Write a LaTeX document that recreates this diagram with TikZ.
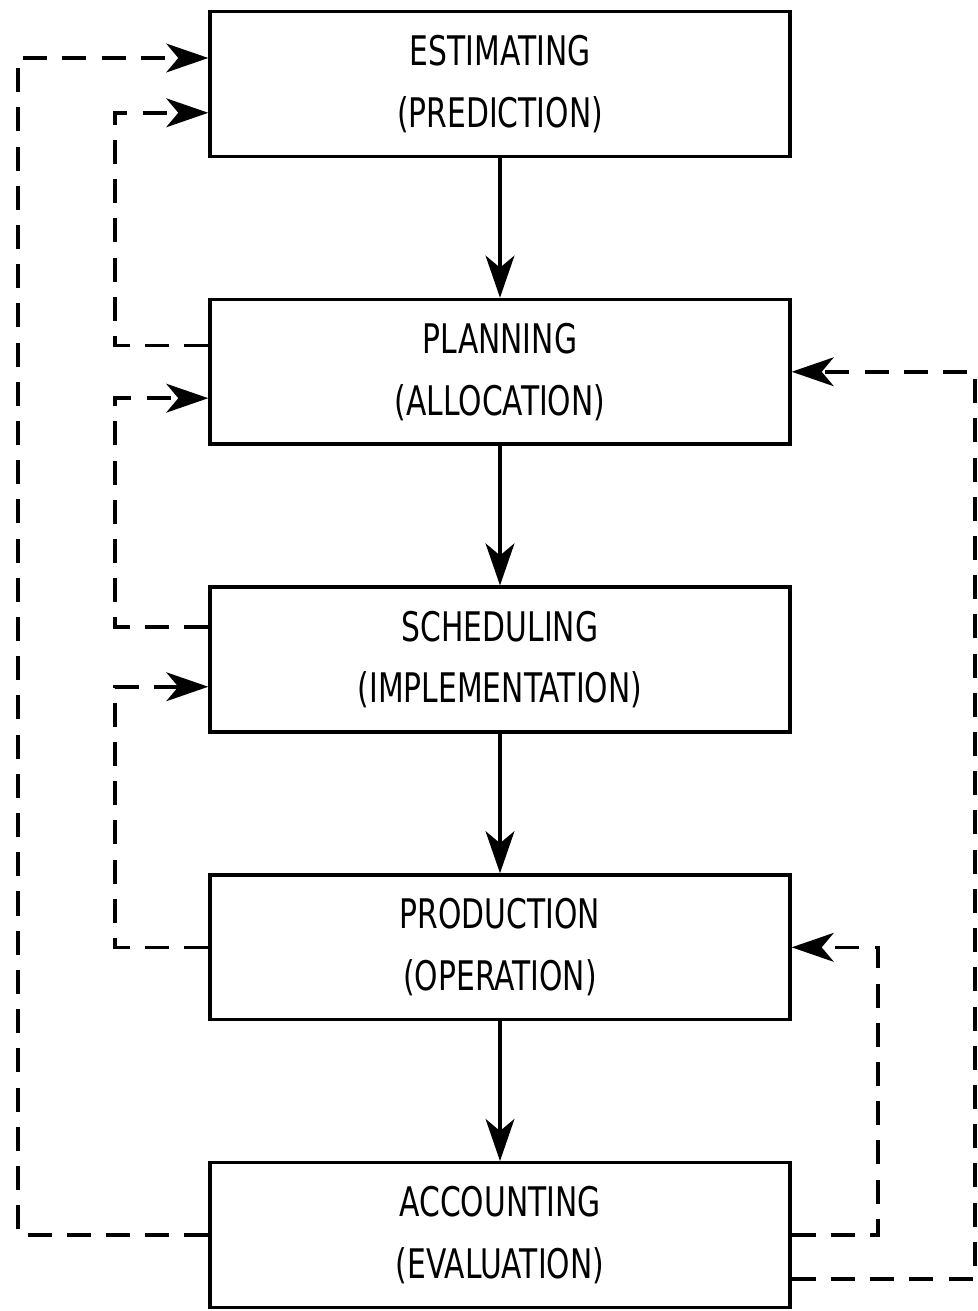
\documentclass[tikz,border=0pt]{standalone}
\usepackage{fontspec}
\setmainfont[FakeStretch=0.73]{DejaVu Sans}
\usepackage{tikz}
\usetikzlibrary{arrows.meta, positioning, calc}

\begin{document}
\begin{tikzpicture}[
  node distance=3.49cm,
  box/.style={rectangle, draw=black, line width=2.4pt,
              minimum width=14.5cm, minimum height=3.62cm,
              align=center, font=\fontsize{29}{44}\selectfont},
  arrow/.style={-{Stealth[length=1.05cm, width=0.72cm, inset=0.3cm]}, line width=2.6pt},
  feedback/.style={arrow, dash pattern=on 0.6cm off 0.38cm}
]
\useasboundingbox (0,0) rectangle (24.425,-32.775);

\node[box] (estimating) at (12.5,-2.1) {ESTIMATING\\(PREDICTION)};
\node[box, below=of estimating] (planning) {PLANNING\\(ALLOCATION)};
\node[box, below=of planning] (scheduling) {SCHEDULING\\(IMPLEMENTATION)};
\node[box, below=of scheduling] (production) {PRODUCTION\\(OPERATION)};
\node[box, below=of production] (accounting) {ACCOUNTING\\(EVALUATION)};

% main flow
\draw[arrow] (estimating) -- (planning);
\draw[arrow] (planning) -- (scheduling);
\draw[arrow] (scheduling) -- (production);
\draw[arrow] (production) -- (accounting);

% feedback on the left
\draw[feedback] (accounting.west) -- ++(-4.75cm,0) |- ([yshift=0.65cm]estimating.west);
\draw[feedback] ([yshift=0.66cm]planning.west) -- ++(-2.325cm,0) |- ([yshift=-0.72cm]estimating.west);
\draw[feedback] ([yshift=0.82cm]scheduling.west) -- ++(-2.325cm,0) |- ([yshift=-0.66cm]planning.west);
\draw[feedback] (production.west) -- ++(-2.325cm,0) |- ([yshift=-0.68cm]scheduling.west);

% feedback on the right
\draw[feedback] (accounting.east) -- ++(2.15cm,0) |- (production.east);
\draw[feedback] ([yshift=-1.09cm]accounting.east) -- ++(4.575cm,0) |- (planning.east);

\end{tikzpicture}
\end{document}
